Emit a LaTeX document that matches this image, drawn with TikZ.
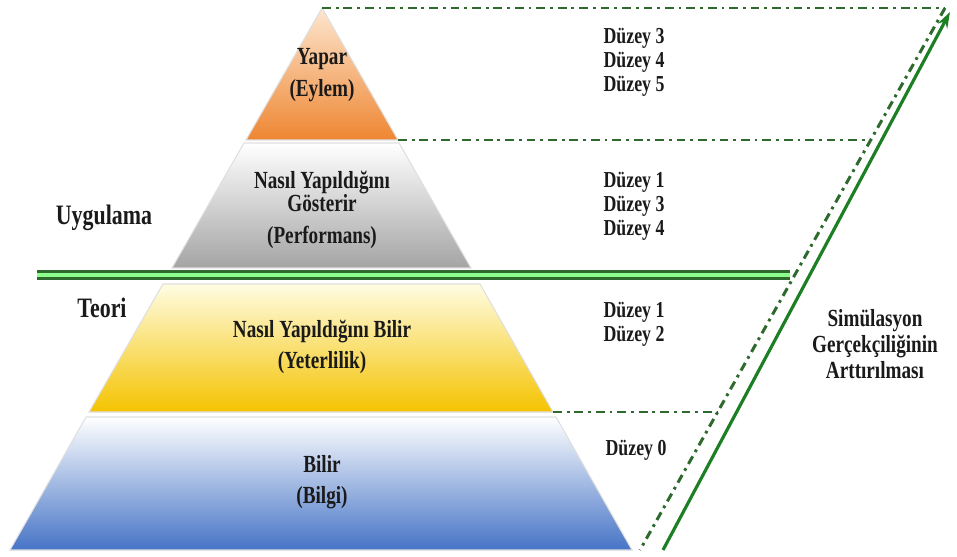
\documentclass[tikz,border=0pt]{standalone}
\usepackage{fontspec}
\setmainfont{Liberation Serif}[FakeStretch=0.78]
\usepackage{xcolor}
\usepackage{tikz}
\usetikzlibrary{arrows.meta,positioning}
\definecolor{orangetop}{HTML}{FDE6CF}
\definecolor{orangebot}{HTML}{EE8632}
\definecolor{graytop}{HTML}{FFFFFF}
\definecolor{graybot}{HTML}{A4A4A4}
\definecolor{yellowtop}{HTML}{FFFCE2}
\definecolor{yellowbot}{HTML}{F4C300}
\definecolor{bluetop}{HTML}{FFFFFF}
\definecolor{bluebot}{HTML}{4674C6}
\definecolor{forest}{HTML}{2E6A2E}
\definecolor{leaf}{HTML}{1C7F24}
\definecolor{ink}{HTML}{1A1A1A}
\tikzset{
  layer/.style={draw=white!75!gray, line width=0.6pt},
  layertext/.style={font=\fontsize{14}{13}\selectfont\bfseries, text=ink,
    align=center, inner sep=1pt},
  leveltext/.style={font=\fontsize{13}{13.6}\selectfont\bfseries, text=ink,
    align=center, inner sep=1pt},
  sidetext/.style={font=\fontsize{#1}{14.7}\selectfont\bfseries, text=ink,
    align=center, inner sep=1pt},
  sidetext/.default=14,
  dashdot/.style={draw=forest, line width=1.7pt,
    dash pattern=on 5pt off 2.8pt on 1.6pt off 2.8pt},
  sepline/.style={draw=forest, line width=1.6pt, double=white!55!green,
    double distance=2.8pt},
  risearrow/.style={-{Stealth[length=9pt,width=6pt]}, draw=leaf, line width=1.8pt},
}
\begin{document}
\begin{tikzpicture}[x=0.02cm, y=-0.02cm]
  \useasboundingbox (0,0) rectangle (957,557);
  % Pyramid corners
  \coordinate (apex) at (322,8);
  \coordinate (o-l) at (246,140);  \coordinate (o-r) at (398,140);
  \coordinate (g-tl) at (244,143); \coordinate (g-tr) at (399,143);
  \coordinate (g-bl) at (172,268); \coordinate (g-br) at (471,268);
  \coordinate (y-tl) at (163,284); \coordinate (y-tr) at (480,284);
  \coordinate (y-bl) at (89,412);  \coordinate (y-br) at (553,412);
  \coordinate (b-tl) at (86,417);  \coordinate (b-tr) at (556,417);
  \coordinate (b-bl) at (10,550);  \coordinate (b-br) at (632,550);
  % Layers
  \shade[layer, top color=orangetop, bottom color=orangebot]
    (apex) -- (o-r) -- (o-l) -- cycle;
  \shade[layer, top color=graytop, bottom color=graybot]
    (g-tl) -- (g-tr) -- (g-br) -- (g-bl) -- cycle;
  \shade[layer, top color=yellowtop, bottom color=yellowbot]
    (y-tl) -- (y-tr) -- (y-br) -- (y-bl) -- cycle;
  \shade[layer, top color=bluetop, bottom color=bluebot]
    (b-tl) -- (b-tr) -- (b-br) -- (b-bl) -- cycle;
  % Realism frame
  \coordinate (f-top) at (945,8);
  \coordinate (f-o) at (870,140);
  \coordinate (f-y) at (718,412);
  \coordinate (f-bot) at (640,550);
  \draw[dashdot] (apex) -- (f-top);
  \draw[dashdot] (o-r) -- (f-o);
  \draw[dashdot] (y-br) -- (f-y);
  \draw[dashdot] (f-top) -- (f-bot);
  % Theory / practice border
  \coordinate (sep-l) at (37,275);
  \coordinate (sep-r) at (790,275);
  \draw[sepline] (sep-l) -- (sep-r);
  % Rising arrow
  \coordinate (rise-s) at (663,550);
  \coordinate (rise-e) at (950,12);
  \draw[risearrow] (rise-s) -- (rise-e);
  % Layer labels
  \node[layertext] (does) at (322,75) {Yapar\\[5pt](Eylem)};
  \node[layertext] (shows) at (322,210) {Nasıl Yapıldığını\\Gösterir\\[5pt](Performans)};
  \node[layertext] (knowshow) at (322,347) {Nasıl Yapıldığını Bilir\\[5pt](Yeterlilik)};
  \node[layertext] (knows) at (322,482) {Bilir\\[5pt](Bilgi)};
  % Side labels
  \node[sidetext=16] (practice) at (104,218) {Uygulama};
  \node[sidetext=16] (theory) at (102,308) {Teori};
  \node[sidetext] (realism) at (875,344) {Simülasyon\\Gerçekçiliğinin\\Arttırılması};
  % Levels
  \node[leveltext] (lv-does) at (634,62) {Düzey 3\\Düzey 4\\Düzey 5};
  \node[leveltext] (lv-shows) at (634,206) {Düzey 1\\Düzey 3\\Düzey 4};
  \node[leveltext] (lv-knowshow) at (634,324) {Düzey 1\\Düzey 2};
  \node[leveltext] (lv-knows) at (636,450) {Düzey 0};
\end{tikzpicture}
\end{document}
